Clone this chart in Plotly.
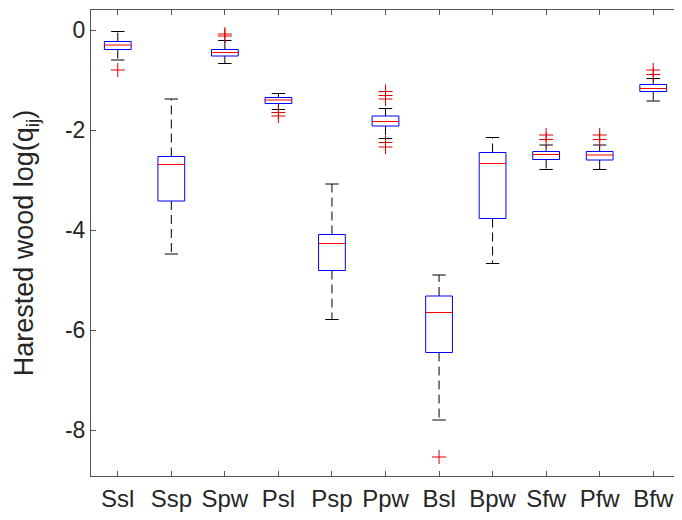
import plotly.graph_objects as go

categories = ["Ssl", "Ssp", "Spw", "Psl", "Psp", "Ppw", "Bsl", "Bpw", "Sfw", "Pfw", "Bfw"]
upper_whisker = [-0.03, -1.38, -0.21, -1.27, -3.08, -1.57, -4.90, -2.15, -2.30, -2.30, -0.97]
q3 = [-0.23, -2.53, -0.39, -1.35, -4.09, -1.72, -5.32, -2.45, -2.43, -2.43, -1.09]
median = [-0.30, -2.69, -0.45, -1.40, -4.27, -1.83, -5.65, -2.67, -2.49, -2.50, -1.17]
q1 = [-0.39, -3.42, -0.52, -1.47, -4.81, -1.92, -6.45, -3.77, -2.59, -2.60, -1.23]
lower_whisker = [-0.60, -4.48, -0.67, -1.59, -5.79, -2.17, -7.80, -4.67, -2.79, -2.79, -1.42]
outliers = [
    [-0.80],
    [],
    [-0.08, -0.12],
    [-1.65, -1.72],
    [],
    [-1.23, -1.31, -1.38, -2.25, -2.34],
    [-8.54],
    [],
    [-2.10, -2.19],
    [-2.10, -2.19],
    [-0.80, -0.89],
]
y_ticks = [-8, -6, -4, -2, 0]

positions = list(range(1, len(categories) + 1))
BW = 0.25   # half box width (x units)
CW = 0.125  # half cap width

bx, by, mx, my, wx, wy, cx, cy, ox, oy = [], [], [], [], [], [], [], [], [], []
for i, p in enumerate(positions):
    bx += [p - BW, p + BW, p + BW, p - BW, p - BW, None]
    by += [q1[i], q1[i], q3[i], q3[i], q1[i], None]
    mx += [p - BW, p + BW, None]
    my += [median[i], median[i], None]
    wx += [p, p, None, p, p, None]
    wy += [q3[i], upper_whisker[i], None, q1[i], lower_whisker[i], None]
    cx += [p - CW, p + CW, None, p - CW, p + CW, None]
    cy += [upper_whisker[i], upper_whisker[i], None, lower_whisker[i], lower_whisker[i], None]
    for v in outliers[i]:
        ox.append(p)
        oy.append(v)

fig = go.Figure()
fig.add_trace(go.Scatter(x=wx, y=wy, mode="lines",
                         line=dict(color="black", width=1, dash="9px,5px"), hoverinfo="skip"))
fig.add_trace(go.Scatter(x=cx, y=cy, mode="lines",
                         line=dict(color="black", width=1), hoverinfo="skip"))
fig.add_trace(go.Scatter(x=bx, y=by, mode="lines",
                         line=dict(color="blue", width=1), hoverinfo="skip"))
fig.add_trace(go.Scatter(x=mx, y=my, mode="lines",
                         line=dict(color="red", width=1), hoverinfo="skip"))
fig.add_trace(go.Scatter(x=ox, y=oy, mode="markers",
                         marker=dict(symbol="cross-thin", size=10,
                                     line=dict(color="#dd0000", width=1)),
                         hoverinfo="skip"))

axis_color = "#555555"
# the page body has an 8px default margin, so the figure is sized to fit the window
fig.update_layout(
    width=674, height=512,
    margin=dict(l=83, r=2, t=2, b=44),
    paper_bgcolor="white", plot_bgcolor="white",
    showlegend=False,
    font=dict(family="Liberation Sans, Arial, sans-serif", color="#262626", size=23),
    xaxis=dict(
        range=[0.5, len(categories) + 0.5],
        tickmode="array", tickvals=positions, ticktext=categories,
        ticks="inside", ticklen=5, tickcolor=axis_color,
        showline=True, linecolor=axis_color, linewidth=1, mirror="ticks",
        showgrid=False, zeroline=False, automargin=False,
        tickfont=dict(size=24), ticklabelstandoff=1,
    ),
    yaxis=dict(
        range=[-8.92, 0.4],
        tickmode="array", tickvals=y_ticks, ticktext=[str(t) for t in y_ticks],
        ticks="inside", ticklen=5, tickcolor=axis_color,
        showline=True, linecolor=axis_color, linewidth=1, mirror="ticks",
        showgrid=False, zeroline=False, automargin=False,
        tickfont=dict(size=23),
        title=dict(text="Harested wood log(q<sub>ij</sub>)", font=dict(size=27), standoff=23),
    ),
)

fig.write_html("out.html")
